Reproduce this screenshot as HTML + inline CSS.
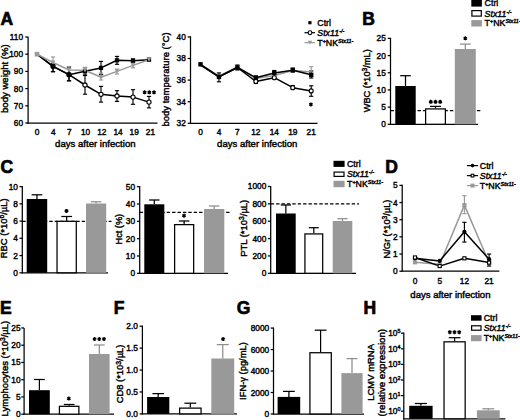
<!DOCTYPE html>
<html><head><meta charset="utf-8"><style>
html,body{margin:0;padding:0;background:#fff;width:520px;height:420px;overflow:hidden}
svg{display:block}
text{font-family:"Liberation Sans", sans-serif;stroke:#000;stroke-width:0.4px;paint-order:stroke}
</style></head><body>
<svg width="520" height="420" viewBox="0 0 520 420">
<rect width="520" height="420" fill="#fff"/>
<text x="0.40" y="24.76" font-size="17.5" font-weight="bold" fill="#000" style="stroke-width:0.7px">A</text>
<line x1="28.10" y1="36.70" x2="28.10" y2="123.60" stroke="#000" stroke-width="1.25" stroke-linecap="butt"/>
<line x1="25.30" y1="123.00" x2="28.10" y2="123.00" stroke="#000" stroke-width="1.25" stroke-linecap="butt"/>
<text x="23.00" y="125.99" font-size="8.3" font-weight="normal" text-anchor="end" fill="#000">60</text>
<line x1="25.30" y1="105.80" x2="28.10" y2="105.80" stroke="#000" stroke-width="1.25" stroke-linecap="butt"/>
<text x="23.00" y="108.79" font-size="8.3" font-weight="normal" text-anchor="end" fill="#000">70</text>
<line x1="25.30" y1="88.60" x2="28.10" y2="88.60" stroke="#000" stroke-width="1.25" stroke-linecap="butt"/>
<text x="23.00" y="91.59" font-size="8.3" font-weight="normal" text-anchor="end" fill="#000">80</text>
<line x1="25.30" y1="71.40" x2="28.10" y2="71.40" stroke="#000" stroke-width="1.25" stroke-linecap="butt"/>
<text x="23.00" y="74.39" font-size="8.3" font-weight="normal" text-anchor="end" fill="#000">90</text>
<line x1="25.30" y1="54.20" x2="28.10" y2="54.20" stroke="#000" stroke-width="1.25" stroke-linecap="butt"/>
<text x="23.00" y="57.19" font-size="8.3" font-weight="normal" text-anchor="end" fill="#000">100</text>
<line x1="25.30" y1="37.00" x2="28.10" y2="37.00" stroke="#000" stroke-width="1.25" stroke-linecap="butt"/>
<text x="23.00" y="39.99" font-size="8.3" font-weight="normal" text-anchor="end" fill="#000">110</text>
<line x1="27.50" y1="123.00" x2="157.50" y2="123.00" stroke="#000" stroke-width="1.25" stroke-linecap="butt"/>
<text x="37.00" y="134.59" font-size="8.3" font-weight="normal" text-anchor="middle" fill="#000">0</text>
<text x="53.20" y="134.59" font-size="8.3" font-weight="normal" text-anchor="middle" fill="#000">4</text>
<text x="69.40" y="134.59" font-size="8.3" font-weight="normal" text-anchor="middle" fill="#000">7</text>
<text x="85.60" y="134.59" font-size="8.3" font-weight="normal" text-anchor="middle" fill="#000">10</text>
<text x="101.80" y="134.59" font-size="8.3" font-weight="normal" text-anchor="middle" fill="#000">12</text>
<text x="118.00" y="134.59" font-size="8.3" font-weight="normal" text-anchor="middle" fill="#000">14</text>
<text x="134.20" y="134.59" font-size="8.3" font-weight="normal" text-anchor="middle" fill="#000">19</text>
<text x="150.40" y="134.59" font-size="8.3" font-weight="normal" text-anchor="middle" fill="#000">21</text>
<text transform="translate(95.30,147.40) scale(1.066,1)" font-size="9.0" font-weight="normal" text-anchor="middle" fill="#000">days after infection</text>
<text transform="translate(7.80,78.65) rotate(-90) scale(1.066,1)" font-size="9.0" font-weight="normal" text-anchor="middle" fill="#000">body weight (%)</text>
<line x1="53.00" y1="64.00" x2="53.00" y2="71.70" stroke="#000" stroke-width="1.15" stroke-linecap="butt"/>
<line x1="50.90" y1="64.00" x2="55.10" y2="64.00" stroke="#000" stroke-width="1.15" stroke-linecap="butt"/>
<line x1="50.90" y1="71.70" x2="55.10" y2="71.70" stroke="#000" stroke-width="1.15" stroke-linecap="butt"/>
<line x1="69.00" y1="68.00" x2="69.00" y2="80.80" stroke="#000" stroke-width="1.15" stroke-linecap="butt"/>
<line x1="66.90" y1="68.00" x2="71.10" y2="68.00" stroke="#000" stroke-width="1.15" stroke-linecap="butt"/>
<line x1="66.90" y1="80.80" x2="71.10" y2="80.80" stroke="#000" stroke-width="1.15" stroke-linecap="butt"/>
<line x1="85.00" y1="75.50" x2="85.00" y2="94.20" stroke="#000" stroke-width="1.15" stroke-linecap="butt"/>
<line x1="82.90" y1="75.50" x2="87.10" y2="75.50" stroke="#000" stroke-width="1.15" stroke-linecap="butt"/>
<line x1="82.90" y1="94.20" x2="87.10" y2="94.20" stroke="#000" stroke-width="1.15" stroke-linecap="butt"/>
<line x1="101.00" y1="86.40" x2="101.00" y2="102.10" stroke="#000" stroke-width="1.15" stroke-linecap="butt"/>
<line x1="98.90" y1="86.40" x2="103.10" y2="86.40" stroke="#000" stroke-width="1.15" stroke-linecap="butt"/>
<line x1="98.90" y1="102.10" x2="103.10" y2="102.10" stroke="#000" stroke-width="1.15" stroke-linecap="butt"/>
<line x1="117.00" y1="90.70" x2="117.00" y2="101.40" stroke="#000" stroke-width="1.15" stroke-linecap="butt"/>
<line x1="114.90" y1="90.70" x2="119.10" y2="90.70" stroke="#000" stroke-width="1.15" stroke-linecap="butt"/>
<line x1="114.90" y1="101.40" x2="119.10" y2="101.40" stroke="#000" stroke-width="1.15" stroke-linecap="butt"/>
<line x1="133.00" y1="89.70" x2="133.00" y2="104.30" stroke="#000" stroke-width="1.15" stroke-linecap="butt"/>
<line x1="130.90" y1="89.70" x2="135.10" y2="89.70" stroke="#000" stroke-width="1.15" stroke-linecap="butt"/>
<line x1="130.90" y1="104.30" x2="135.10" y2="104.30" stroke="#000" stroke-width="1.15" stroke-linecap="butt"/>
<line x1="149.00" y1="96.40" x2="149.00" y2="107.90" stroke="#000" stroke-width="1.15" stroke-linecap="butt"/>
<line x1="146.90" y1="96.40" x2="151.10" y2="96.40" stroke="#000" stroke-width="1.15" stroke-linecap="butt"/>
<line x1="146.90" y1="107.90" x2="151.10" y2="107.90" stroke="#000" stroke-width="1.15" stroke-linecap="butt"/>
<line x1="53.00" y1="64.00" x2="53.00" y2="71.70" stroke="#000" stroke-width="1.15" stroke-linecap="butt"/>
<line x1="50.90" y1="64.00" x2="55.10" y2="64.00" stroke="#000" stroke-width="1.15" stroke-linecap="butt"/>
<line x1="50.90" y1="71.70" x2="55.10" y2="71.70" stroke="#000" stroke-width="1.15" stroke-linecap="butt"/>
<line x1="69.00" y1="66.70" x2="69.00" y2="80.80" stroke="#000" stroke-width="1.15" stroke-linecap="butt"/>
<line x1="66.90" y1="66.70" x2="71.10" y2="66.70" stroke="#000" stroke-width="1.15" stroke-linecap="butt"/>
<line x1="66.90" y1="80.80" x2="71.10" y2="80.80" stroke="#000" stroke-width="1.15" stroke-linecap="butt"/>
<line x1="85.00" y1="67.50" x2="85.00" y2="75.00" stroke="#000" stroke-width="1.15" stroke-linecap="butt"/>
<line x1="82.90" y1="67.50" x2="87.10" y2="67.50" stroke="#000" stroke-width="1.15" stroke-linecap="butt"/>
<line x1="82.90" y1="75.00" x2="87.10" y2="75.00" stroke="#000" stroke-width="1.15" stroke-linecap="butt"/>
<line x1="101.00" y1="61.40" x2="101.00" y2="74.50" stroke="#000" stroke-width="1.15" stroke-linecap="butt"/>
<line x1="98.90" y1="61.40" x2="103.10" y2="61.40" stroke="#000" stroke-width="1.15" stroke-linecap="butt"/>
<line x1="98.90" y1="74.50" x2="103.10" y2="74.50" stroke="#000" stroke-width="1.15" stroke-linecap="butt"/>
<line x1="117.00" y1="56.40" x2="117.00" y2="64.30" stroke="#000" stroke-width="1.15" stroke-linecap="butt"/>
<line x1="114.90" y1="56.40" x2="119.10" y2="56.40" stroke="#000" stroke-width="1.15" stroke-linecap="butt"/>
<line x1="114.90" y1="64.30" x2="119.10" y2="64.30" stroke="#000" stroke-width="1.15" stroke-linecap="butt"/>
<line x1="133.00" y1="58.90" x2="133.00" y2="62.50" stroke="#000" stroke-width="1.15" stroke-linecap="butt"/>
<line x1="130.90" y1="58.90" x2="135.10" y2="58.90" stroke="#000" stroke-width="1.15" stroke-linecap="butt"/>
<line x1="130.90" y1="62.50" x2="135.10" y2="62.50" stroke="#000" stroke-width="1.15" stroke-linecap="butt"/>
<line x1="53.00" y1="57.00" x2="53.00" y2="66.00" stroke="#999" stroke-width="1.15" stroke-linecap="butt"/>
<line x1="50.90" y1="57.00" x2="55.10" y2="57.00" stroke="#999" stroke-width="1.15" stroke-linecap="butt"/>
<line x1="50.90" y1="66.00" x2="55.10" y2="66.00" stroke="#999" stroke-width="1.15" stroke-linecap="butt"/>
<line x1="69.00" y1="66.70" x2="69.00" y2="74.00" stroke="#999" stroke-width="1.15" stroke-linecap="butt"/>
<line x1="66.90" y1="66.70" x2="71.10" y2="66.70" stroke="#999" stroke-width="1.15" stroke-linecap="butt"/>
<line x1="66.90" y1="74.00" x2="71.10" y2="74.00" stroke="#999" stroke-width="1.15" stroke-linecap="butt"/>
<line x1="85.00" y1="67.50" x2="85.00" y2="73.00" stroke="#999" stroke-width="1.15" stroke-linecap="butt"/>
<line x1="82.90" y1="67.50" x2="87.10" y2="67.50" stroke="#999" stroke-width="1.15" stroke-linecap="butt"/>
<line x1="82.90" y1="73.00" x2="87.10" y2="73.00" stroke="#999" stroke-width="1.15" stroke-linecap="butt"/>
<line x1="101.00" y1="73.00" x2="101.00" y2="80.00" stroke="#999" stroke-width="1.15" stroke-linecap="butt"/>
<line x1="98.90" y1="73.00" x2="103.10" y2="73.00" stroke="#999" stroke-width="1.15" stroke-linecap="butt"/>
<line x1="98.90" y1="80.00" x2="103.10" y2="80.00" stroke="#999" stroke-width="1.15" stroke-linecap="butt"/>
<line x1="117.00" y1="69.00" x2="117.00" y2="74.00" stroke="#999" stroke-width="1.15" stroke-linecap="butt"/>
<line x1="114.90" y1="69.00" x2="119.10" y2="69.00" stroke="#999" stroke-width="1.15" stroke-linecap="butt"/>
<line x1="114.90" y1="74.00" x2="119.10" y2="74.00" stroke="#999" stroke-width="1.15" stroke-linecap="butt"/>
<line x1="133.00" y1="62.50" x2="133.00" y2="67.90" stroke="#999" stroke-width="1.15" stroke-linecap="butt"/>
<line x1="130.90" y1="62.50" x2="135.10" y2="62.50" stroke="#999" stroke-width="1.15" stroke-linecap="butt"/>
<line x1="130.90" y1="67.90" x2="135.10" y2="67.90" stroke="#999" stroke-width="1.15" stroke-linecap="butt"/>
<line x1="149.00" y1="58.00" x2="149.00" y2="61.00" stroke="#999" stroke-width="1.15" stroke-linecap="butt"/>
<line x1="146.90" y1="58.00" x2="151.10" y2="58.00" stroke="#999" stroke-width="1.15" stroke-linecap="butt"/>
<line x1="146.90" y1="61.00" x2="151.10" y2="61.00" stroke="#999" stroke-width="1.15" stroke-linecap="butt"/>
<polyline points="37.0,54.2 53.0,66.3 69.0,74.7 85.0,85.0 101.0,94.3 117.0,96.0 133.0,97.1 149.0,102.1" fill="none" stroke="#000" stroke-width="1.5" stroke-linejoin="round"/>
<polyline points="37.0,54.2 53.0,66.3 69.0,74.7 85.0,71.3 101.0,67.9 117.0,60.3 133.0,60.7 149.0,59.7" fill="none" stroke="#000" stroke-width="1.5" stroke-linejoin="round"/>
<polyline points="37.0,54.2 53.0,62.5 69.0,70.0 85.0,70.3 101.0,77.3 117.0,71.4 133.0,65.4 149.0,59.7" fill="none" stroke="#999" stroke-width="1.5" stroke-linejoin="round"/>
<circle cx="53.00" cy="66.3" r="2.1" fill="#fff" stroke="#000" stroke-width="1.1"/>
<circle cx="69.00" cy="74.7" r="2.1" fill="#fff" stroke="#000" stroke-width="1.1"/>
<circle cx="85.00" cy="85.0" r="2.1" fill="#fff" stroke="#000" stroke-width="1.1"/>
<circle cx="101.00" cy="94.3" r="2.1" fill="#fff" stroke="#000" stroke-width="1.1"/>
<circle cx="117.00" cy="96.0" r="2.1" fill="#fff" stroke="#000" stroke-width="1.1"/>
<circle cx="133.00" cy="97.1" r="2.1" fill="#fff" stroke="#000" stroke-width="1.1"/>
<circle cx="149.00" cy="102.1" r="2.1" fill="#fff" stroke="#000" stroke-width="1.1"/>
<rect x="50.90" y="64.20" width="4.20" height="4.20" fill="#000"/>
<rect x="66.90" y="72.60" width="4.20" height="4.20" fill="#000"/>
<rect x="82.90" y="69.20" width="4.20" height="4.20" fill="#000"/>
<rect x="98.90" y="65.80" width="4.20" height="4.20" fill="#000"/>
<rect x="114.90" y="58.20" width="4.20" height="4.20" fill="#000"/>
<rect x="130.90" y="58.60" width="4.20" height="4.20" fill="#000"/>
<rect x="146.90" y="57.60" width="4.20" height="4.20" fill="#000"/>
<path d="M50.70,60.4 L55.30,60.4 L53.00,64.6 Z" fill="#999"/>
<path d="M66.70,67.9 L71.30,67.9 L69.00,72.1 Z" fill="#999"/>
<path d="M82.70,68.2 L87.30,68.2 L85.00,72.39999999999999 Z" fill="#999"/>
<path d="M98.70,75.2 L103.30,75.2 L101.00,79.39999999999999 Z" fill="#999"/>
<path d="M114.70,69.30000000000001 L119.30,69.30000000000001 L117.00,73.5 Z" fill="#999"/>
<path d="M130.70,63.300000000000004 L135.30,63.300000000000004 L133.00,67.5 Z" fill="#999"/>
<path d="M146.70,57.6 L151.30,57.6 L149.00,61.800000000000004 Z" fill="#999"/>
<rect x="34.70" y="51.90" width="4.60" height="4.60" fill="#999"/>
<path d="M144.60,90.30L144.60,94.30M142.87,91.30L146.33,93.30M142.87,93.30L146.33,91.30" stroke="#000" stroke-width="1.35" fill="none"/>
<circle cx="144.60" cy="92.30" r="1.0" fill="#000"/>
<path d="M149.30,90.30L149.30,94.30M147.57,91.30L151.03,93.30M147.57,93.30L151.03,91.30" stroke="#000" stroke-width="1.35" fill="none"/>
<circle cx="149.30" cy="92.30" r="1.0" fill="#000"/>
<path d="M154.00,90.30L154.00,94.30M152.27,91.30L155.73,93.30M152.27,93.30L155.73,91.30" stroke="#000" stroke-width="1.35" fill="none"/>
<circle cx="154.00" cy="92.30" r="1.0" fill="#000"/>
<line x1="190.50" y1="36.30" x2="190.50" y2="123.90" stroke="#000" stroke-width="1.25" stroke-linecap="butt"/>
<line x1="187.70" y1="123.30" x2="190.50" y2="123.30" stroke="#000" stroke-width="1.25" stroke-linecap="butt"/>
<text x="185.80" y="126.29" font-size="8.3" font-weight="normal" text-anchor="end" fill="#000">32</text>
<line x1="187.70" y1="101.70" x2="190.50" y2="101.70" stroke="#000" stroke-width="1.25" stroke-linecap="butt"/>
<text x="185.80" y="104.69" font-size="8.3" font-weight="normal" text-anchor="end" fill="#000">34</text>
<line x1="187.70" y1="80.10" x2="190.50" y2="80.10" stroke="#000" stroke-width="1.25" stroke-linecap="butt"/>
<text x="185.80" y="83.09" font-size="8.3" font-weight="normal" text-anchor="end" fill="#000">36</text>
<line x1="187.70" y1="58.50" x2="190.50" y2="58.50" stroke="#000" stroke-width="1.25" stroke-linecap="butt"/>
<text x="185.80" y="61.49" font-size="8.3" font-weight="normal" text-anchor="end" fill="#000">38</text>
<line x1="187.70" y1="36.90" x2="190.50" y2="36.90" stroke="#000" stroke-width="1.25" stroke-linecap="butt"/>
<text x="185.80" y="39.89" font-size="8.3" font-weight="normal" text-anchor="end" fill="#000">40</text>
<line x1="189.90" y1="123.30" x2="317.50" y2="123.30" stroke="#000" stroke-width="1.25" stroke-linecap="butt"/>
<text x="200.50" y="134.59" font-size="8.3" font-weight="normal" text-anchor="middle" fill="#000">0</text>
<text x="218.95" y="134.59" font-size="8.3" font-weight="normal" text-anchor="middle" fill="#000">4</text>
<text x="237.40" y="134.59" font-size="8.3" font-weight="normal" text-anchor="middle" fill="#000">7</text>
<text x="255.85" y="134.59" font-size="8.3" font-weight="normal" text-anchor="middle" fill="#000">12</text>
<text x="274.30" y="134.59" font-size="8.3" font-weight="normal" text-anchor="middle" fill="#000">14</text>
<text x="292.75" y="134.59" font-size="8.3" font-weight="normal" text-anchor="middle" fill="#000">19</text>
<text x="311.20" y="134.59" font-size="8.3" font-weight="normal" text-anchor="middle" fill="#000">21</text>
<text transform="translate(257.25,147.30) scale(1.064,1)" font-size="9.0" font-weight="normal" text-anchor="middle" fill="#000">days after infection</text>
<text transform="translate(169.00,79.50) rotate(-90) scale(1.058,1)" font-size="9.0" font-weight="normal" text-anchor="middle" fill="#000">body temperature (°C)</text>
<line x1="218.95" y1="72.90" x2="218.95" y2="81.80" stroke="#000" stroke-width="1.15" stroke-linecap="butt"/>
<line x1="216.85" y1="72.90" x2="221.05" y2="72.90" stroke="#000" stroke-width="1.15" stroke-linecap="butt"/>
<line x1="216.85" y1="81.80" x2="221.05" y2="81.80" stroke="#000" stroke-width="1.15" stroke-linecap="butt"/>
<line x1="237.40" y1="65.00" x2="237.40" y2="70.00" stroke="#000" stroke-width="1.15" stroke-linecap="butt"/>
<line x1="235.30" y1="65.00" x2="239.50" y2="65.00" stroke="#000" stroke-width="1.15" stroke-linecap="butt"/>
<line x1="235.30" y1="70.00" x2="239.50" y2="70.00" stroke="#000" stroke-width="1.15" stroke-linecap="butt"/>
<line x1="255.85" y1="76.00" x2="255.85" y2="80.00" stroke="#000" stroke-width="1.15" stroke-linecap="butt"/>
<line x1="253.75" y1="76.00" x2="257.95" y2="76.00" stroke="#000" stroke-width="1.15" stroke-linecap="butt"/>
<line x1="253.75" y1="80.00" x2="257.95" y2="80.00" stroke="#000" stroke-width="1.15" stroke-linecap="butt"/>
<line x1="274.30" y1="70.50" x2="274.30" y2="75.00" stroke="#000" stroke-width="1.15" stroke-linecap="butt"/>
<line x1="272.20" y1="70.50" x2="276.40" y2="70.50" stroke="#000" stroke-width="1.15" stroke-linecap="butt"/>
<line x1="272.20" y1="75.00" x2="276.40" y2="75.00" stroke="#000" stroke-width="1.15" stroke-linecap="butt"/>
<line x1="292.75" y1="68.00" x2="292.75" y2="72.00" stroke="#000" stroke-width="1.15" stroke-linecap="butt"/>
<line x1="290.65" y1="68.00" x2="294.85" y2="68.00" stroke="#000" stroke-width="1.15" stroke-linecap="butt"/>
<line x1="290.65" y1="72.00" x2="294.85" y2="72.00" stroke="#000" stroke-width="1.15" stroke-linecap="butt"/>
<line x1="311.20" y1="71.00" x2="311.20" y2="78.00" stroke="#000" stroke-width="1.15" stroke-linecap="butt"/>
<line x1="309.10" y1="71.00" x2="313.30" y2="71.00" stroke="#000" stroke-width="1.15" stroke-linecap="butt"/>
<line x1="309.10" y1="78.00" x2="313.30" y2="78.00" stroke="#000" stroke-width="1.15" stroke-linecap="butt"/>
<line x1="311.20" y1="66.70" x2="311.20" y2="74.00" stroke="#999" stroke-width="1.15" stroke-linecap="butt"/>
<line x1="309.10" y1="66.70" x2="313.30" y2="66.70" stroke="#999" stroke-width="1.15" stroke-linecap="butt"/>
<line x1="309.10" y1="74.00" x2="313.30" y2="74.00" stroke="#999" stroke-width="1.15" stroke-linecap="butt"/>
<line x1="255.85" y1="79.00" x2="255.85" y2="83.50" stroke="#000" stroke-width="1.15" stroke-linecap="butt"/>
<line x1="253.75" y1="79.00" x2="257.95" y2="79.00" stroke="#000" stroke-width="1.15" stroke-linecap="butt"/>
<line x1="253.75" y1="83.50" x2="257.95" y2="83.50" stroke="#000" stroke-width="1.15" stroke-linecap="butt"/>
<line x1="292.75" y1="85.50" x2="292.75" y2="89.00" stroke="#000" stroke-width="1.15" stroke-linecap="butt"/>
<line x1="290.65" y1="85.50" x2="294.85" y2="85.50" stroke="#000" stroke-width="1.15" stroke-linecap="butt"/>
<line x1="290.65" y1="89.00" x2="294.85" y2="89.00" stroke="#000" stroke-width="1.15" stroke-linecap="butt"/>
<line x1="311.20" y1="85.80" x2="311.20" y2="96.30" stroke="#000" stroke-width="1.15" stroke-linecap="butt"/>
<line x1="309.10" y1="85.80" x2="313.30" y2="85.80" stroke="#000" stroke-width="1.15" stroke-linecap="butt"/>
<line x1="309.10" y1="96.30" x2="313.30" y2="96.30" stroke="#000" stroke-width="1.15" stroke-linecap="butt"/>
<polyline points="200.5,64.3 218.9,76.0 237.4,67.0 255.8,78.5 274.3,75.5 292.8,70.5 311.2,72.0" fill="none" stroke="#999" stroke-width="1.5" stroke-linejoin="round"/>
<polyline points="200.5,65.0 218.9,76.9 237.4,67.5 255.8,81.5 274.3,77.7 292.8,87.7 311.2,90.9" fill="none" stroke="#000" stroke-width="1.5" stroke-linejoin="round"/>
<polyline points="200.5,64.3 218.9,76.9 237.4,67.5 255.8,77.7 274.3,72.9 292.8,70.2 311.2,74.8" fill="none" stroke="#000" stroke-width="1.5" stroke-linejoin="round"/>
<circle cx="255.85" cy="81.5" r="2" fill="#fff" stroke="#000" stroke-width="1.1"/>
<circle cx="274.30" cy="77.7" r="2" fill="#fff" stroke="#000" stroke-width="1.1"/>
<circle cx="292.75" cy="87.7" r="2" fill="#fff" stroke="#000" stroke-width="1.1"/>
<circle cx="311.20" cy="90.9" r="2" fill="#fff" stroke="#000" stroke-width="1.1"/>
<rect x="198.30" y="62.10" width="4.40" height="4.40" fill="#000"/>
<rect x="216.75" y="74.70" width="4.40" height="4.40" fill="#000"/>
<rect x="235.20" y="65.30" width="4.40" height="4.40" fill="#000"/>
<rect x="253.65" y="75.50" width="4.40" height="4.40" fill="#000"/>
<rect x="272.10" y="70.70" width="4.40" height="4.40" fill="#000"/>
<rect x="290.55" y="68.00" width="4.40" height="4.40" fill="#000"/>
<rect x="309.00" y="72.60" width="4.40" height="4.40" fill="#000"/>
<path d="M310.90,102.40L310.90,106.40M309.17,103.40L312.63,105.40M309.17,105.40L312.63,103.40" stroke="#000" stroke-width="1.35" fill="none"/>
<circle cx="310.90" cy="104.40" r="1.0" fill="#000"/>
<rect x="308.30" y="21.10" width="3.20" height="3.20" fill="#000"/>
<text x="317.30" y="25.67" font-size="8.8" font-weight="normal" text-anchor="start" fill="#000">Ctrl</text>
<line x1="304.50" y1="32.70" x2="315.00" y2="32.70" stroke="#000" stroke-width="1.2" stroke-linecap="butt"/>
<circle cx="310" cy="32.7" r="1.9" fill="#fff" stroke="#000" stroke-width="1.1"/>
<text x="317.30" y="35.87" font-size="8.8" font-weight="normal" text-anchor="start" fill="#000"><tspan font-style="italic">Stx11</tspan><tspan font-size="62%" dy="-3" font-style="italic">-/-</tspan></text>
<line x1="304.50" y1="42.70" x2="315.00" y2="42.70" stroke="#999" stroke-width="1.2" stroke-linecap="butt"/>
<path d="M307.8,40.8 L312.2,40.8 L310,44.6 Z" fill="#999"/>
<text x="317.30" y="45.87" font-size="8.8" font-weight="normal" text-anchor="start" fill="#000">T<tspan font-size="62%" dy="-3">+</tspan><tspan dy="3">NK</tspan><tspan font-size="62%" dy="-3" font-style="italic">Stx11-</tspan></text>
<text x="362.20" y="24.56" font-size="17.5" font-weight="bold" fill="#000" style="stroke-width:0.7px">B</text>
<line x1="390.50" y1="37.80" x2="390.50" y2="124.90" stroke="#000" stroke-width="1.25" stroke-linecap="butt"/>
<line x1="387.70" y1="124.30" x2="390.50" y2="124.30" stroke="#000" stroke-width="1.25" stroke-linecap="butt"/>
<text x="385.80" y="127.29" font-size="8.3" font-weight="normal" text-anchor="end" fill="#000">0</text>
<line x1="387.70" y1="107.12" x2="390.50" y2="107.12" stroke="#000" stroke-width="1.25" stroke-linecap="butt"/>
<text x="385.80" y="110.11" font-size="8.3" font-weight="normal" text-anchor="end" fill="#000">5</text>
<line x1="387.70" y1="89.94" x2="390.50" y2="89.94" stroke="#000" stroke-width="1.25" stroke-linecap="butt"/>
<text x="385.80" y="92.93" font-size="8.3" font-weight="normal" text-anchor="end" fill="#000">10</text>
<line x1="387.70" y1="72.76" x2="390.50" y2="72.76" stroke="#000" stroke-width="1.25" stroke-linecap="butt"/>
<text x="385.80" y="75.75" font-size="8.3" font-weight="normal" text-anchor="end" fill="#000">15</text>
<line x1="387.70" y1="55.58" x2="390.50" y2="55.58" stroke="#000" stroke-width="1.25" stroke-linecap="butt"/>
<text x="385.80" y="58.57" font-size="8.3" font-weight="normal" text-anchor="end" fill="#000">20</text>
<line x1="387.70" y1="38.40" x2="390.50" y2="38.40" stroke="#000" stroke-width="1.25" stroke-linecap="butt"/>
<text x="385.80" y="41.39" font-size="8.3" font-weight="normal" text-anchor="end" fill="#000">25</text>
<line x1="389.90" y1="124.30" x2="478.00" y2="124.30" stroke="#000" stroke-width="1.25" stroke-linecap="butt"/>
<line x1="390.50" y1="110.60" x2="481.00" y2="110.60" stroke="#000" stroke-width="1.25" stroke-linecap="butt" stroke-dasharray="3.4,2.0"/>
<line x1="405.50" y1="75.70" x2="405.50" y2="86.00" stroke="#000" stroke-width="1.25" stroke-linecap="butt"/>
<line x1="400.20" y1="75.70" x2="410.80" y2="75.70" stroke="#000" stroke-width="1.25" stroke-linecap="butt"/>
<rect x="395.30" y="86.00" width="20.40" height="38.30" fill="#000"/>
<line x1="435.50" y1="106.40" x2="435.50" y2="108.30" stroke="#000" stroke-width="1.25" stroke-linecap="butt"/>
<line x1="430.04" y1="106.40" x2="440.96" y2="106.40" stroke="#000" stroke-width="1.25" stroke-linecap="butt"/>
<rect x="425.62" y="108.92" width="19.75" height="15.35" fill="#fff" stroke="#000" stroke-width="1.25"/>
<line x1="465.30" y1="44.10" x2="465.30" y2="49.00" stroke="#8e8e8e" stroke-width="1.25" stroke-linecap="butt"/>
<line x1="459.84" y1="44.10" x2="470.76" y2="44.10" stroke="#8e8e8e" stroke-width="1.25" stroke-linecap="butt"/>
<rect x="454.80" y="49.00" width="21.00" height="75.30" fill="#999"/>
<path d="M430.80,99.80L430.80,103.80M429.07,100.80L432.53,102.80M429.07,102.80L432.53,100.80" stroke="#000" stroke-width="1.35" fill="none"/>
<circle cx="430.80" cy="101.80" r="1.0" fill="#000"/>
<path d="M435.50,99.80L435.50,103.80M433.77,100.80L437.23,102.80M433.77,102.80L437.23,100.80" stroke="#000" stroke-width="1.35" fill="none"/>
<circle cx="435.50" cy="101.80" r="1.0" fill="#000"/>
<path d="M440.20,99.80L440.20,103.80M438.47,100.80L441.93,102.80M438.47,102.80L441.93,100.80" stroke="#000" stroke-width="1.35" fill="none"/>
<circle cx="440.20" cy="101.80" r="1.0" fill="#000"/>
<path d="M465.30,36.30L465.30,40.30M463.57,37.30L467.03,39.30M463.57,39.30L467.03,37.30" stroke="#000" stroke-width="1.35" fill="none"/>
<circle cx="465.30" cy="38.30" r="1.0" fill="#000"/>
<text transform="translate(369.80,80.80) rotate(-90) scale(1.024,1)" font-size="9.0" font-weight="normal" text-anchor="middle" fill="#000">WBC (*10<tspan font-size="72%" dy="-2.8">3</tspan><tspan dy="2.8">/mL)</tspan></text>
<rect x="471.30" y="-0.40" width="10.60" height="7.00" fill="#000"/>
<text x="484.60" y="6.27" font-size="8.8" font-weight="normal" text-anchor="start" fill="#000">Ctrl</text>
<rect x="471.90" y="10.60" width="9.40" height="5.50" fill="#fff" stroke="#000" stroke-width="1.2"/>
<text x="484.60" y="16.52" font-size="8.8" font-weight="normal" text-anchor="start" fill="#000"><tspan font-style="italic">Stx11</tspan><tspan font-size="62%" dy="-3" font-style="italic">-/-</tspan></text>
<rect x="471.30" y="20.10" width="10.60" height="6.40" fill="#999"/>
<text x="484.60" y="26.47" font-size="8.8" font-weight="normal" text-anchor="start" fill="#000">T<tspan font-size="62%" dy="-3">+</tspan><tspan dy="3">NK</tspan><tspan font-size="62%" dy="-3" font-style="italic">Stx11-</tspan></text>
<text x="0.60" y="172.76" font-size="17.5" font-weight="bold" fill="#000" style="stroke-width:0.7px">C</text>
<line x1="22.30" y1="185.90" x2="22.30" y2="273.40" stroke="#000" stroke-width="1.25" stroke-linecap="butt"/>
<line x1="19.50" y1="272.80" x2="22.30" y2="272.80" stroke="#000" stroke-width="1.25" stroke-linecap="butt"/>
<text x="17.90" y="275.79" font-size="8.3" font-weight="normal" text-anchor="end" fill="#000">0</text>
<line x1="19.50" y1="255.56" x2="22.30" y2="255.56" stroke="#000" stroke-width="1.25" stroke-linecap="butt"/>
<text x="17.90" y="258.55" font-size="8.3" font-weight="normal" text-anchor="end" fill="#000">2</text>
<line x1="19.50" y1="238.32" x2="22.30" y2="238.32" stroke="#000" stroke-width="1.25" stroke-linecap="butt"/>
<text x="17.90" y="241.31" font-size="8.3" font-weight="normal" text-anchor="end" fill="#000">4</text>
<line x1="19.50" y1="221.08" x2="22.30" y2="221.08" stroke="#000" stroke-width="1.25" stroke-linecap="butt"/>
<text x="17.90" y="224.07" font-size="8.3" font-weight="normal" text-anchor="end" fill="#000">6</text>
<line x1="19.50" y1="203.84" x2="22.30" y2="203.84" stroke="#000" stroke-width="1.25" stroke-linecap="butt"/>
<text x="17.90" y="206.83" font-size="8.3" font-weight="normal" text-anchor="end" fill="#000">8</text>
<line x1="19.50" y1="186.60" x2="22.30" y2="186.60" stroke="#000" stroke-width="1.25" stroke-linecap="butt"/>
<text x="17.90" y="189.59" font-size="8.3" font-weight="normal" text-anchor="end" fill="#000">10</text>
<line x1="21.70" y1="272.80" x2="108.00" y2="272.80" stroke="#000" stroke-width="1.25" stroke-linecap="butt"/>
<line x1="22.30" y1="221.40" x2="111.50" y2="221.40" stroke="#000" stroke-width="1.25" stroke-linecap="butt" stroke-dasharray="3.4,2.0"/>
<line x1="36.95" y1="194.80" x2="36.95" y2="199.00" stroke="#000" stroke-width="1.25" stroke-linecap="butt"/>
<line x1="31.62" y1="194.80" x2="42.28" y2="194.80" stroke="#000" stroke-width="1.25" stroke-linecap="butt"/>
<rect x="26.70" y="199.00" width="20.50" height="73.80" fill="#000"/>
<line x1="66.65" y1="216.50" x2="66.65" y2="220.70" stroke="#000" stroke-width="1.25" stroke-linecap="butt"/>
<line x1="61.32" y1="216.50" x2="71.98" y2="216.50" stroke="#000" stroke-width="1.25" stroke-linecap="butt"/>
<rect x="57.02" y="221.32" width="19.25" height="51.45" fill="#fff" stroke="#000" stroke-width="1.25"/>
<line x1="96.10" y1="201.80" x2="96.10" y2="203.50" stroke="#8e8e8e" stroke-width="1.25" stroke-linecap="butt"/>
<line x1="90.85" y1="201.80" x2="101.35" y2="201.80" stroke="#8e8e8e" stroke-width="1.25" stroke-linecap="butt"/>
<rect x="86.00" y="203.50" width="20.20" height="69.30" fill="#999"/>
<path d="M66.50,208.90L66.50,212.90M64.77,209.90L68.23,211.90M64.77,211.90L68.23,209.90" stroke="#000" stroke-width="1.35" fill="none"/>
<circle cx="66.50" cy="210.90" r="1.0" fill="#000"/>
<text transform="translate(6.70,228.35) rotate(-90) scale(1.047,1)" font-size="9.0" font-weight="normal" text-anchor="middle" fill="#000">RBC (*10<tspan font-size="72%" dy="-2.8">6</tspan><tspan dy="2.8">/µL)</tspan></text>
<line x1="139.70" y1="186.10" x2="139.70" y2="273.90" stroke="#000" stroke-width="1.25" stroke-linecap="butt"/>
<line x1="136.90" y1="273.30" x2="139.70" y2="273.30" stroke="#000" stroke-width="1.25" stroke-linecap="butt"/>
<text x="135.10" y="276.29" font-size="8.3" font-weight="normal" text-anchor="end" fill="#000">0</text>
<line x1="136.90" y1="255.98" x2="139.70" y2="255.98" stroke="#000" stroke-width="1.25" stroke-linecap="butt"/>
<text x="135.10" y="258.97" font-size="8.3" font-weight="normal" text-anchor="end" fill="#000">10</text>
<line x1="136.90" y1="238.66" x2="139.70" y2="238.66" stroke="#000" stroke-width="1.25" stroke-linecap="butt"/>
<text x="135.10" y="241.65" font-size="8.3" font-weight="normal" text-anchor="end" fill="#000">20</text>
<line x1="136.90" y1="221.34" x2="139.70" y2="221.34" stroke="#000" stroke-width="1.25" stroke-linecap="butt"/>
<text x="135.10" y="224.33" font-size="8.3" font-weight="normal" text-anchor="end" fill="#000">30</text>
<line x1="136.90" y1="204.02" x2="139.70" y2="204.02" stroke="#000" stroke-width="1.25" stroke-linecap="butt"/>
<text x="135.10" y="207.01" font-size="8.3" font-weight="normal" text-anchor="end" fill="#000">40</text>
<line x1="136.90" y1="186.70" x2="139.70" y2="186.70" stroke="#000" stroke-width="1.25" stroke-linecap="butt"/>
<text x="135.10" y="189.69" font-size="8.3" font-weight="normal" text-anchor="end" fill="#000">50</text>
<line x1="139.10" y1="273.30" x2="228.00" y2="273.30" stroke="#000" stroke-width="1.25" stroke-linecap="butt"/>
<line x1="139.70" y1="212.40" x2="231.00" y2="212.40" stroke="#000" stroke-width="1.25" stroke-linecap="butt" stroke-dasharray="3.4,2.0"/>
<line x1="154.30" y1="200.00" x2="154.30" y2="204.30" stroke="#000" stroke-width="1.25" stroke-linecap="butt"/>
<line x1="149.10" y1="200.00" x2="159.50" y2="200.00" stroke="#000" stroke-width="1.25" stroke-linecap="butt"/>
<rect x="144.30" y="204.30" width="20.00" height="69.00" fill="#000"/>
<line x1="184.15" y1="221.00" x2="184.15" y2="224.00" stroke="#000" stroke-width="1.25" stroke-linecap="butt"/>
<line x1="178.87" y1="221.00" x2="189.43" y2="221.00" stroke="#000" stroke-width="1.25" stroke-linecap="butt"/>
<rect x="174.62" y="224.62" width="19.05" height="48.65" fill="#fff" stroke="#000" stroke-width="1.25"/>
<line x1="214.15" y1="206.00" x2="214.15" y2="209.00" stroke="#8e8e8e" stroke-width="1.25" stroke-linecap="butt"/>
<line x1="208.87" y1="206.00" x2="219.43" y2="206.00" stroke="#8e8e8e" stroke-width="1.25" stroke-linecap="butt"/>
<rect x="204.00" y="209.00" width="20.30" height="64.30" fill="#999"/>
<path d="M184.00,213.70L184.00,217.70M182.27,214.70L185.73,216.70M182.27,216.70L185.73,214.70" stroke="#000" stroke-width="1.35" fill="none"/>
<circle cx="184.00" cy="215.70" r="1.0" fill="#000"/>
<text transform="translate(122.30,229.15) rotate(-90) scale(1.020,1)" font-size="9.0" font-weight="normal" text-anchor="middle" fill="#000">Hct (%)</text>
<line x1="270.70" y1="185.90" x2="270.70" y2="273.90" stroke="#000" stroke-width="1.25" stroke-linecap="butt"/>
<line x1="267.90" y1="273.30" x2="270.70" y2="273.30" stroke="#000" stroke-width="1.25" stroke-linecap="butt"/>
<text x="266.30" y="276.29" font-size="8.3" font-weight="normal" text-anchor="end" fill="#000">0</text>
<line x1="267.90" y1="255.94" x2="270.70" y2="255.94" stroke="#000" stroke-width="1.25" stroke-linecap="butt"/>
<text x="266.30" y="258.93" font-size="8.3" font-weight="normal" text-anchor="end" fill="#000">200</text>
<line x1="267.90" y1="238.58" x2="270.70" y2="238.58" stroke="#000" stroke-width="1.25" stroke-linecap="butt"/>
<text x="266.30" y="241.57" font-size="8.3" font-weight="normal" text-anchor="end" fill="#000">400</text>
<line x1="267.90" y1="221.22" x2="270.70" y2="221.22" stroke="#000" stroke-width="1.25" stroke-linecap="butt"/>
<text x="266.30" y="224.21" font-size="8.3" font-weight="normal" text-anchor="end" fill="#000">600</text>
<line x1="267.90" y1="203.86" x2="270.70" y2="203.86" stroke="#000" stroke-width="1.25" stroke-linecap="butt"/>
<text x="266.30" y="206.85" font-size="8.3" font-weight="normal" text-anchor="end" fill="#000">800</text>
<line x1="267.90" y1="186.50" x2="270.70" y2="186.50" stroke="#000" stroke-width="1.25" stroke-linecap="butt"/>
<text x="266.30" y="189.49" font-size="8.3" font-weight="normal" text-anchor="end" fill="#000">1000</text>
<line x1="270.10" y1="273.30" x2="356.00" y2="273.30" stroke="#000" stroke-width="1.25" stroke-linecap="butt"/>
<line x1="270.70" y1="203.80" x2="359.00" y2="203.80" stroke="#000" stroke-width="1.25" stroke-linecap="butt" stroke-dasharray="3.4,2.0"/>
<line x1="285.85" y1="205.00" x2="285.85" y2="213.50" stroke="#000" stroke-width="1.25" stroke-linecap="butt"/>
<line x1="280.73" y1="205.00" x2="290.97" y2="205.00" stroke="#000" stroke-width="1.25" stroke-linecap="butt"/>
<rect x="276.00" y="213.50" width="19.70" height="59.80" fill="#000"/>
<line x1="313.80" y1="227.70" x2="313.80" y2="233.30" stroke="#000" stroke-width="1.25" stroke-linecap="butt"/>
<line x1="308.86" y1="227.70" x2="318.74" y2="227.70" stroke="#000" stroke-width="1.25" stroke-linecap="butt"/>
<rect x="304.93" y="233.93" width="17.75" height="39.35" fill="#fff" stroke="#000" stroke-width="1.25"/>
<line x1="342.50" y1="218.70" x2="342.50" y2="221.00" stroke="#8e8e8e" stroke-width="1.25" stroke-linecap="butt"/>
<line x1="337.40" y1="218.70" x2="347.60" y2="218.70" stroke="#8e8e8e" stroke-width="1.25" stroke-linecap="butt"/>
<rect x="332.70" y="221.00" width="19.60" height="52.30" fill="#999"/>
<text transform="translate(246.80,228.30) rotate(-90) scale(1.048,1)" font-size="9.0" font-weight="normal" text-anchor="middle" fill="#000">PTL (*10<tspan font-size="72%" dy="-2.8">3</tspan><tspan dy="2.8">/µL)</tspan></text>
<rect x="333.50" y="160.80" width="11.10" height="6.10" fill="#000"/>
<text x="347.00" y="167.02" font-size="8.8" font-weight="normal" text-anchor="start" fill="#000">Ctrl</text>
<rect x="334.10" y="172.10" width="9.90" height="4.30" fill="#fff" stroke="#000" stroke-width="1.2"/>
<text x="347.00" y="177.42" font-size="8.8" font-weight="normal" text-anchor="start" fill="#000"><tspan font-style="italic">Stx11</tspan><tspan font-size="62%" dy="-3" font-style="italic">-/-</tspan></text>
<rect x="333.50" y="180.80" width="11.10" height="6.40" fill="#999"/>
<text x="347.00" y="187.17" font-size="8.8" font-weight="normal" text-anchor="start" fill="#000">T<tspan font-size="62%" dy="-3">+</tspan><tspan dy="3">NK</tspan><tspan font-size="62%" dy="-3" font-style="italic">Stx11-</tspan></text>
<text x="385.30" y="173.06" font-size="17.5" font-weight="bold" fill="#000" style="stroke-width:0.7px">D</text>
<line x1="402.20" y1="184.80" x2="402.20" y2="271.80" stroke="#000" stroke-width="1.25" stroke-linecap="butt"/>
<line x1="399.40" y1="271.20" x2="402.20" y2="271.20" stroke="#000" stroke-width="1.25" stroke-linecap="butt"/>
<text x="397.70" y="274.19" font-size="8.3" font-weight="normal" text-anchor="end" fill="#000">0</text>
<line x1="399.40" y1="254.04" x2="402.20" y2="254.04" stroke="#000" stroke-width="1.25" stroke-linecap="butt"/>
<text x="397.70" y="257.03" font-size="8.3" font-weight="normal" text-anchor="end" fill="#000">1</text>
<line x1="399.40" y1="236.88" x2="402.20" y2="236.88" stroke="#000" stroke-width="1.25" stroke-linecap="butt"/>
<text x="397.70" y="239.87" font-size="8.3" font-weight="normal" text-anchor="end" fill="#000">2</text>
<line x1="399.40" y1="219.72" x2="402.20" y2="219.72" stroke="#000" stroke-width="1.25" stroke-linecap="butt"/>
<text x="397.70" y="222.71" font-size="8.3" font-weight="normal" text-anchor="end" fill="#000">3</text>
<line x1="399.40" y1="202.56" x2="402.20" y2="202.56" stroke="#000" stroke-width="1.25" stroke-linecap="butt"/>
<text x="397.70" y="205.55" font-size="8.3" font-weight="normal" text-anchor="end" fill="#000">4</text>
<line x1="399.40" y1="185.40" x2="402.20" y2="185.40" stroke="#000" stroke-width="1.25" stroke-linecap="butt"/>
<text x="397.70" y="188.39" font-size="8.3" font-weight="normal" text-anchor="end" fill="#000">5</text>
<line x1="401.60" y1="271.20" x2="499.40" y2="271.20" stroke="#000" stroke-width="1.25" stroke-linecap="butt"/>
<text x="415.00" y="284.19" font-size="8.3" font-weight="normal" text-anchor="middle" fill="#000">0</text>
<text x="439.70" y="284.19" font-size="8.3" font-weight="normal" text-anchor="middle" fill="#000">5</text>
<text x="464.40" y="284.19" font-size="8.3" font-weight="normal" text-anchor="middle" fill="#000">12</text>
<text x="489.10" y="284.19" font-size="8.3" font-weight="normal" text-anchor="middle" fill="#000">21</text>
<text transform="translate(450.40,297.60) scale(1.063,1)" font-size="9.0" font-weight="normal" text-anchor="middle" fill="#000">days after infection</text>
<text transform="translate(389.80,229.05) rotate(-90) scale(1.030,1)" font-size="9.0" font-weight="normal" text-anchor="middle" fill="#000">N/Gr (*10<tspan font-size="72%" dy="-2.8">3</tspan><tspan dy="2.8">/µL)</tspan></text>
<line x1="464.40" y1="195.70" x2="464.40" y2="213.71" stroke="#999" stroke-width="1.15" stroke-linecap="butt"/>
<line x1="462.30" y1="195.70" x2="466.50" y2="195.70" stroke="#999" stroke-width="1.15" stroke-linecap="butt"/>
<line x1="462.30" y1="213.71" x2="466.50" y2="213.71" stroke="#999" stroke-width="1.15" stroke-linecap="butt"/>
<line x1="464.40" y1="222.29" x2="464.40" y2="242.03" stroke="#000" stroke-width="1.15" stroke-linecap="butt"/>
<line x1="462.30" y1="222.29" x2="466.50" y2="222.29" stroke="#000" stroke-width="1.15" stroke-linecap="butt"/>
<line x1="462.30" y1="242.03" x2="466.50" y2="242.03" stroke="#000" stroke-width="1.15" stroke-linecap="butt"/>
<line x1="489.10" y1="254.04" x2="489.10" y2="266.05" stroke="#000" stroke-width="1.15" stroke-linecap="butt"/>
<line x1="487.00" y1="254.04" x2="491.20" y2="254.04" stroke="#000" stroke-width="1.15" stroke-linecap="butt"/>
<line x1="487.00" y1="266.05" x2="491.20" y2="266.05" stroke="#000" stroke-width="1.15" stroke-linecap="butt"/>
<polyline points="415.0,262.3 439.7,264.3 464.4,205.1 489.1,262.6" fill="none" stroke="#999" stroke-width="1.5" stroke-linejoin="round"/>
<polyline points="415.0,257.5 439.7,266.1 464.4,258.3 489.1,262.6" fill="none" stroke="#000" stroke-width="1.5" stroke-linejoin="round"/>
<polyline points="415.0,258.3 439.7,260.9 464.4,231.7 489.1,259.2" fill="none" stroke="#000" stroke-width="1.5" stroke-linejoin="round"/>
<rect x="412.90" y="260.18" width="4.20" height="4.20" fill="#999"/>
<rect x="437.60" y="262.24" width="4.20" height="4.20" fill="#999"/>
<rect x="462.30" y="203.03" width="4.20" height="4.20" fill="#999"/>
<rect x="487.00" y="260.52" width="4.20" height="4.20" fill="#999"/>
<circle cx="415" cy="258.33" r="2.1" fill="#000"/>
<circle cx="439.7" cy="260.90" r="2.1" fill="#000"/>
<circle cx="464.4" cy="231.73" r="2.1" fill="#000"/>
<circle cx="489.1" cy="259.19" r="2.1" fill="#000"/>
<rect x="413.45" y="255.92" width="3.10" height="3.10" fill="#fff" stroke="#000" stroke-width="1.1"/>
<rect x="438.15" y="264.50" width="3.10" height="3.10" fill="#fff" stroke="#000" stroke-width="1.1"/>
<rect x="462.85" y="256.78" width="3.10" height="3.10" fill="#fff" stroke="#000" stroke-width="1.1"/>
<rect x="487.55" y="261.07" width="3.10" height="3.10" fill="#fff" stroke="#000" stroke-width="1.1"/>
<line x1="466.90" y1="165.60" x2="478.10" y2="165.60" stroke="#000" stroke-width="1.25" stroke-linecap="butt"/>
<circle cx="472.5" cy="165.6" r="1.8" fill="#000"/>
<text x="479.80" y="168.57" font-size="8.8" font-weight="normal" text-anchor="start" fill="#000">Ctrl</text>
<line x1="466.90" y1="175.60" x2="478.10" y2="175.60" stroke="#000" stroke-width="1.25" stroke-linecap="butt"/>
<rect x="471.15" y="174.25" width="2.70" height="2.70" fill="#fff" stroke="#000" stroke-width="1.1"/>
<text x="479.80" y="178.57" font-size="8.8" font-weight="normal" text-anchor="start" fill="#000"><tspan font-style="italic">Stx11</tspan><tspan font-size="62%" dy="-3" font-style="italic">-/-</tspan></text>
<line x1="466.90" y1="185.60" x2="478.10" y2="185.60" stroke="#999" stroke-width="1.25" stroke-linecap="butt"/>
<rect x="470.50" y="183.60" width="4.00" height="4.00" fill="#999"/>
<text x="479.80" y="188.57" font-size="8.8" font-weight="normal" text-anchor="start" fill="#000">T<tspan font-size="62%" dy="-3">+</tspan><tspan dy="3">NK</tspan><tspan font-size="62%" dy="-3" font-style="italic">Stx11-</tspan></text>
<text x="0.00" y="313.76" font-size="17.5" font-weight="bold" fill="#000" style="stroke-width:0.7px">E</text>
<line x1="24.10" y1="327.90" x2="24.10" y2="414.80" stroke="#000" stroke-width="1.25" stroke-linecap="butt"/>
<line x1="21.30" y1="414.20" x2="24.10" y2="414.20" stroke="#000" stroke-width="1.25" stroke-linecap="butt"/>
<text x="20.50" y="417.19" font-size="8.3" font-weight="normal" text-anchor="end" fill="#000">0</text>
<line x1="21.30" y1="396.95" x2="24.10" y2="396.95" stroke="#000" stroke-width="1.25" stroke-linecap="butt"/>
<text x="20.50" y="399.94" font-size="8.3" font-weight="normal" text-anchor="end" fill="#000">5</text>
<line x1="21.30" y1="379.70" x2="24.10" y2="379.70" stroke="#000" stroke-width="1.25" stroke-linecap="butt"/>
<text x="20.50" y="382.69" font-size="8.3" font-weight="normal" text-anchor="end" fill="#000">10</text>
<line x1="21.30" y1="362.45" x2="24.10" y2="362.45" stroke="#000" stroke-width="1.25" stroke-linecap="butt"/>
<text x="20.50" y="365.44" font-size="8.3" font-weight="normal" text-anchor="end" fill="#000">15</text>
<line x1="21.30" y1="345.20" x2="24.10" y2="345.20" stroke="#000" stroke-width="1.25" stroke-linecap="butt"/>
<text x="20.50" y="348.19" font-size="8.3" font-weight="normal" text-anchor="end" fill="#000">20</text>
<line x1="21.30" y1="327.95" x2="24.10" y2="327.95" stroke="#000" stroke-width="1.25" stroke-linecap="butt"/>
<text x="20.50" y="330.94" font-size="8.3" font-weight="normal" text-anchor="end" fill="#000">25</text>
<line x1="23.50" y1="414.20" x2="114.00" y2="414.20" stroke="#000" stroke-width="1.25" stroke-linecap="butt"/>
<line x1="39.40" y1="379.50" x2="39.40" y2="390.20" stroke="#000" stroke-width="1.25" stroke-linecap="butt"/>
<line x1="33.99" y1="379.50" x2="44.81" y2="379.50" stroke="#000" stroke-width="1.25" stroke-linecap="butt"/>
<rect x="29.00" y="390.20" width="20.80" height="24.00" fill="#000"/>
<line x1="69.15" y1="404.50" x2="69.15" y2="405.70" stroke="#000" stroke-width="1.25" stroke-linecap="butt"/>
<line x1="63.77" y1="404.50" x2="74.53" y2="404.50" stroke="#000" stroke-width="1.25" stroke-linecap="butt"/>
<rect x="59.42" y="406.32" width="19.45" height="7.85" fill="#fff" stroke="#000" stroke-width="1.25"/>
<line x1="99.30" y1="345.00" x2="99.30" y2="354.00" stroke="#8e8e8e" stroke-width="1.25" stroke-linecap="butt"/>
<line x1="93.94" y1="345.00" x2="104.66" y2="345.00" stroke="#8e8e8e" stroke-width="1.25" stroke-linecap="butt"/>
<rect x="89.00" y="354.00" width="20.60" height="60.20" fill="#999"/>
<path d="M68.80,396.60L68.80,400.60M67.07,397.60L70.53,399.60M67.07,399.60L70.53,397.60" stroke="#000" stroke-width="1.35" fill="none"/>
<circle cx="68.80" cy="398.60" r="1.0" fill="#000"/>
<path d="M94.60,337.00L94.60,341.00M92.87,338.00L96.33,340.00M92.87,340.00L96.33,338.00" stroke="#000" stroke-width="1.35" fill="none"/>
<circle cx="94.60" cy="339.00" r="1.0" fill="#000"/>
<path d="M99.30,337.00L99.30,341.00M97.57,338.00L101.03,340.00M97.57,340.00L101.03,338.00" stroke="#000" stroke-width="1.35" fill="none"/>
<circle cx="99.30" cy="339.00" r="1.0" fill="#000"/>
<path d="M104.00,337.00L104.00,341.00M102.27,338.00L105.73,340.00M102.27,340.00L105.73,338.00" stroke="#000" stroke-width="1.35" fill="none"/>
<circle cx="104.00" cy="339.00" r="1.0" fill="#000"/>
<text transform="translate(7.70,368.60) rotate(-90) scale(1.052,1)" font-size="9.0" font-weight="normal" text-anchor="middle" fill="#000">Lymphocytes (*10<tspan font-size="72%" dy="-2.8">3</tspan><tspan dy="2.8">/µL)</tspan></text>
<text x="113.80" y="313.56" font-size="17.5" font-weight="bold" fill="#000" style="stroke-width:0.7px">F</text>
<line x1="142.40" y1="325.60" x2="142.40" y2="414.50" stroke="#000" stroke-width="1.25" stroke-linecap="butt"/>
<line x1="139.60" y1="413.90" x2="142.40" y2="413.90" stroke="#000" stroke-width="1.25" stroke-linecap="butt"/>
<text x="137.90" y="416.89" font-size="8.3" font-weight="normal" text-anchor="end" fill="#000">0.0</text>
<line x1="139.60" y1="391.97" x2="142.40" y2="391.97" stroke="#000" stroke-width="1.25" stroke-linecap="butt"/>
<text x="137.90" y="394.96" font-size="8.3" font-weight="normal" text-anchor="end" fill="#000">0.5</text>
<line x1="139.60" y1="370.05" x2="142.40" y2="370.05" stroke="#000" stroke-width="1.25" stroke-linecap="butt"/>
<text x="137.90" y="373.04" font-size="8.3" font-weight="normal" text-anchor="end" fill="#000">1.0</text>
<line x1="139.60" y1="348.12" x2="142.40" y2="348.12" stroke="#000" stroke-width="1.25" stroke-linecap="butt"/>
<text x="137.90" y="351.11" font-size="8.3" font-weight="normal" text-anchor="end" fill="#000">1.5</text>
<line x1="139.60" y1="326.20" x2="142.40" y2="326.20" stroke="#000" stroke-width="1.25" stroke-linecap="butt"/>
<text x="137.90" y="329.19" font-size="8.3" font-weight="normal" text-anchor="end" fill="#000">2.0</text>
<line x1="141.80" y1="413.90" x2="237.00" y2="413.90" stroke="#000" stroke-width="1.25" stroke-linecap="butt"/>
<line x1="158.20" y1="393.60" x2="158.20" y2="397.00" stroke="#000" stroke-width="1.25" stroke-linecap="butt"/>
<line x1="152.43" y1="393.60" x2="163.97" y2="393.60" stroke="#000" stroke-width="1.25" stroke-linecap="butt"/>
<rect x="147.10" y="397.00" width="22.20" height="16.90" fill="#000"/>
<line x1="190.35" y1="403.20" x2="190.35" y2="407.50" stroke="#000" stroke-width="1.25" stroke-linecap="butt"/>
<line x1="184.45" y1="403.20" x2="196.25" y2="403.20" stroke="#000" stroke-width="1.25" stroke-linecap="butt"/>
<rect x="179.62" y="408.12" width="21.45" height="5.75" fill="#fff" stroke="#000" stroke-width="1.25"/>
<line x1="222.75" y1="344.60" x2="222.75" y2="358.50" stroke="#8e8e8e" stroke-width="1.25" stroke-linecap="butt"/>
<line x1="216.80" y1="344.60" x2="228.70" y2="344.60" stroke="#8e8e8e" stroke-width="1.25" stroke-linecap="butt"/>
<rect x="211.30" y="358.50" width="22.90" height="55.40" fill="#999"/>
<path d="M223.10,337.00L223.10,341.00M221.37,338.00L224.83,340.00M221.37,340.00L224.83,338.00" stroke="#000" stroke-width="1.35" fill="none"/>
<circle cx="223.10" cy="339.00" r="1.0" fill="#000"/>
<text transform="translate(123.40,373.95) rotate(-90) scale(1.044,1)" font-size="9.0" font-weight="normal" text-anchor="middle" fill="#000">CD8 (*10<tspan font-size="72%" dy="-2.8">3</tspan><tspan dy="2.8">/µL)</tspan></text>
<text x="236.80" y="313.56" font-size="17.5" font-weight="bold" fill="#000" style="stroke-width:0.7px">G</text>
<line x1="273.50" y1="327.50" x2="273.50" y2="414.60" stroke="#000" stroke-width="1.25" stroke-linecap="butt"/>
<line x1="270.70" y1="414.00" x2="273.50" y2="414.00" stroke="#000" stroke-width="1.25" stroke-linecap="butt"/>
<text x="269.20" y="416.99" font-size="8.3" font-weight="normal" text-anchor="end" fill="#000">0</text>
<line x1="270.70" y1="392.52" x2="273.50" y2="392.52" stroke="#000" stroke-width="1.25" stroke-linecap="butt"/>
<text x="269.20" y="395.51" font-size="8.3" font-weight="normal" text-anchor="end" fill="#000">2000</text>
<line x1="270.70" y1="371.04" x2="273.50" y2="371.04" stroke="#000" stroke-width="1.25" stroke-linecap="butt"/>
<text x="269.20" y="374.03" font-size="8.3" font-weight="normal" text-anchor="end" fill="#000">4000</text>
<line x1="270.70" y1="349.56" x2="273.50" y2="349.56" stroke="#000" stroke-width="1.25" stroke-linecap="butt"/>
<text x="269.20" y="352.55" font-size="8.3" font-weight="normal" text-anchor="end" fill="#000">6000</text>
<line x1="270.70" y1="328.08" x2="273.50" y2="328.08" stroke="#000" stroke-width="1.25" stroke-linecap="butt"/>
<text x="269.20" y="331.07" font-size="8.3" font-weight="normal" text-anchor="end" fill="#000">8000</text>
<line x1="272.90" y1="414.00" x2="364.00" y2="414.00" stroke="#000" stroke-width="1.25" stroke-linecap="butt"/>
<line x1="288.90" y1="391.40" x2="288.90" y2="396.90" stroke="#000" stroke-width="1.25" stroke-linecap="butt"/>
<line x1="283.02" y1="391.40" x2="294.78" y2="391.40" stroke="#000" stroke-width="1.25" stroke-linecap="butt"/>
<rect x="277.60" y="396.90" width="22.60" height="17.10" fill="#000"/>
<line x1="320.60" y1="330.20" x2="320.60" y2="352.10" stroke="#000" stroke-width="1.25" stroke-linecap="butt"/>
<line x1="314.72" y1="330.20" x2="326.48" y2="330.20" stroke="#000" stroke-width="1.25" stroke-linecap="butt"/>
<rect x="309.93" y="352.73" width="21.35" height="61.25" fill="#fff" stroke="#000" stroke-width="1.25"/>
<line x1="352.00" y1="358.60" x2="352.00" y2="373.10" stroke="#8e8e8e" stroke-width="1.25" stroke-linecap="butt"/>
<line x1="346.49" y1="358.60" x2="357.51" y2="358.60" stroke="#8e8e8e" stroke-width="1.25" stroke-linecap="butt"/>
<rect x="341.40" y="373.10" width="21.20" height="40.90" fill="#999"/>
<text transform="translate(245.90,371.05) rotate(-90) scale(1.041,1)" font-size="9.0" font-weight="normal" text-anchor="middle" fill="#000">IFN-γ (pg/mL)</text>
<text x="363.60" y="313.76" font-size="17.5" font-weight="bold" fill="#000" style="stroke-width:0.7px">H</text>
<line x1="403.80" y1="332.60" x2="403.80" y2="419.40" stroke="#000" stroke-width="1.25" stroke-linecap="butt"/>
<line x1="401.00" y1="411.20" x2="403.80" y2="411.20" stroke="#000" stroke-width="1.25" stroke-linecap="butt"/>
<text x="400.40" y="414.19" font-size="8.3" font-weight="normal" text-anchor="end" fill="#000">10<tspan font-size="65%" dy="-2.8">0</tspan></text>
<line x1="401.00" y1="395.60" x2="403.80" y2="395.60" stroke="#000" stroke-width="1.25" stroke-linecap="butt"/>
<text x="400.40" y="398.59" font-size="8.3" font-weight="normal" text-anchor="end" fill="#000">10<tspan font-size="65%" dy="-2.8">1</tspan></text>
<line x1="401.00" y1="380.00" x2="403.80" y2="380.00" stroke="#000" stroke-width="1.25" stroke-linecap="butt"/>
<text x="400.40" y="382.99" font-size="8.3" font-weight="normal" text-anchor="end" fill="#000">10<tspan font-size="65%" dy="-2.8">2</tspan></text>
<line x1="401.00" y1="364.40" x2="403.80" y2="364.40" stroke="#000" stroke-width="1.25" stroke-linecap="butt"/>
<text x="400.40" y="367.39" font-size="8.3" font-weight="normal" text-anchor="end" fill="#000">10<tspan font-size="65%" dy="-2.8">3</tspan></text>
<line x1="401.00" y1="348.80" x2="403.80" y2="348.80" stroke="#000" stroke-width="1.25" stroke-linecap="butt"/>
<text x="400.40" y="351.79" font-size="8.3" font-weight="normal" text-anchor="end" fill="#000">10<tspan font-size="65%" dy="-2.8">4</tspan></text>
<line x1="401.00" y1="333.20" x2="403.80" y2="333.20" stroke="#000" stroke-width="1.25" stroke-linecap="butt"/>
<text x="400.40" y="336.19" font-size="8.3" font-weight="normal" text-anchor="end" fill="#000">10<tspan font-size="65%" dy="-2.8">5</tspan></text>
<line x1="403.20" y1="418.80" x2="505.40" y2="418.80" stroke="#000" stroke-width="1.25" stroke-linecap="butt"/>
<line x1="420.90" y1="403.50" x2="420.90" y2="405.80" stroke="#000" stroke-width="1.25" stroke-linecap="butt"/>
<line x1="414.82" y1="403.50" x2="426.98" y2="403.50" stroke="#000" stroke-width="1.25" stroke-linecap="butt"/>
<rect x="409.20" y="405.80" width="23.40" height="13.00" fill="#000"/>
<line x1="454.60" y1="337.70" x2="454.60" y2="341.20" stroke="#000" stroke-width="1.25" stroke-linecap="butt"/>
<line x1="448.78" y1="337.70" x2="460.42" y2="337.70" stroke="#000" stroke-width="1.25" stroke-linecap="butt"/>
<rect x="444.02" y="341.82" width="21.15" height="76.95" fill="#fff" stroke="#000" stroke-width="1.25"/>
<line x1="488.30" y1="408.80" x2="488.30" y2="410.30" stroke="#8e8e8e" stroke-width="1.25" stroke-linecap="butt"/>
<line x1="482.37" y1="408.80" x2="494.23" y2="408.80" stroke="#8e8e8e" stroke-width="1.25" stroke-linecap="butt"/>
<rect x="476.90" y="410.30" width="22.80" height="8.50" fill="#999"/>
<path d="M449.80,330.20L449.80,334.20M448.07,331.20L451.53,333.20M448.07,333.20L451.53,331.20" stroke="#000" stroke-width="1.35" fill="none"/>
<circle cx="449.80" cy="332.20" r="1.0" fill="#000"/>
<path d="M454.50,330.20L454.50,334.20M452.77,331.20L456.23,333.20M452.77,333.20L456.23,331.20" stroke="#000" stroke-width="1.35" fill="none"/>
<circle cx="454.50" cy="332.20" r="1.0" fill="#000"/>
<path d="M459.20,330.20L459.20,334.20M457.47,331.20L460.93,333.20M457.47,333.20L460.93,331.20" stroke="#000" stroke-width="1.35" fill="none"/>
<circle cx="459.20" cy="332.20" r="1.0" fill="#000"/>
<text transform="translate(373.50,372.40) rotate(-90) scale(1.050,1)" font-size="9.0" font-weight="normal" text-anchor="middle" fill="#000">LCMV mRNA</text>
<text transform="translate(384.50,372.65) rotate(-90) scale(1.081,1)" font-size="9.0" font-weight="normal" text-anchor="middle" fill="#000">(relative expression)</text>
<rect x="471.00" y="315.20" width="10.60" height="5.50" fill="#000"/>
<text x="483.70" y="321.12" font-size="8.8" font-weight="normal" text-anchor="start" fill="#000">Ctrl</text>
<rect x="471.60" y="325.80" width="9.40" height="4.40" fill="#fff" stroke="#000" stroke-width="1.2"/>
<text x="483.70" y="331.17" font-size="8.8" font-weight="normal" text-anchor="start" fill="#000"><tspan font-style="italic">Stx11</tspan><tspan font-size="62%" dy="-3" font-style="italic">-/-</tspan></text>
<rect x="471.00" y="335.10" width="10.60" height="6.10" fill="#999"/>
<text x="483.70" y="341.32" font-size="8.8" font-weight="normal" text-anchor="start" fill="#000">T<tspan font-size="62%" dy="-3">+</tspan><tspan dy="3">NK</tspan><tspan font-size="62%" dy="-3" font-style="italic">Stx11-</tspan></text>
</svg></body></html>
